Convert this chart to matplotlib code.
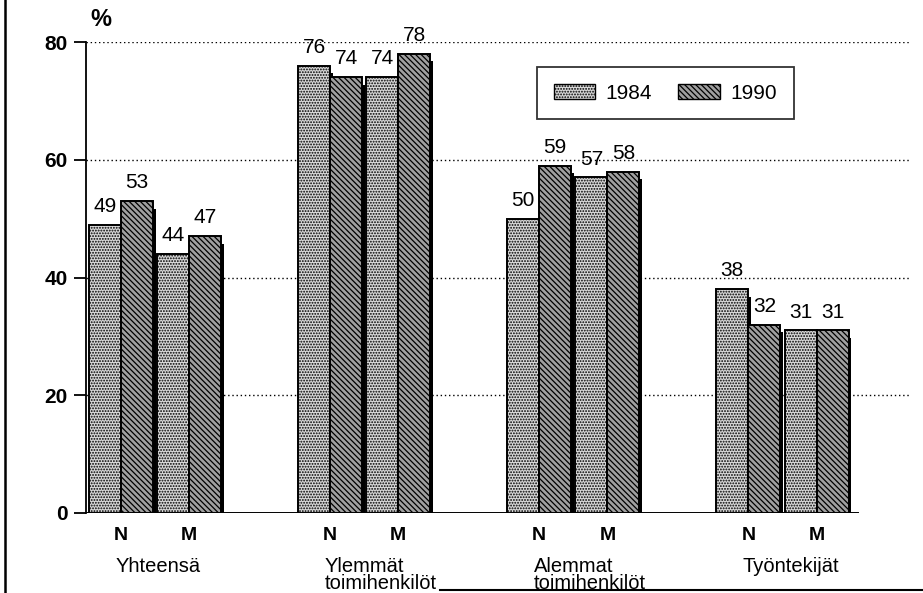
import matplotlib
matplotlib.use("Agg")
import matplotlib.pyplot as plt
from matplotlib.lines import Line2D
from matplotlib.patches import Rectangle
import matplotlib as mpl

plt.rcParams['font.family'] = ['Liberation Sans', 'DejaVu Sans']
mpl.rcParams['hatch.linewidth'] = 0.9

# Data
groups = ["Yhteensä", "Ylemmät\ntoimihenkilöt", "Alemmat\ntoimihenkilöt", "Työntekijät"]
sexes = ["N", "M"]
years = ["1984", "1990"]
# values[group][sex] = (1984, 1990)
v1984 = [[49, 44], [76, 74], [50, 57], [38, 31]]
v1990 = [[53, 47], [74, 78], [59, 58], [32, 31]]
yticks = [0, 20, 40, 60, 80]

fig = plt.figure(figsize=(9.23, 5.93), dpi=100)
ax = fig.add_axes([86 / 923, 80 / 593, 824 / 923, 471 / 593])
ax.set_xlim(-0.33, 3.61)
ax.set_ylim(0, 80)

w = 0.153
pair_off = 0.163

styles = {
    "1984": dict(facecolor="#d8d8d8", hatch="......"),
    "1990": dict(facecolor="#a0a0a0", hatch="\\\\\\\\\\\\"),
}

for g in range(len(groups)):
    for s in range(len(sexes)):
        pc = g + (-pair_off if s == 0 else pair_off)
        vals = [v1984[g][s], v1990[g][s]]
        for k, yr in enumerate(years):
            x = pc - w / 2 if k == 0 else pc + w / 2
            h = vals[k]
            # drop shadow
            ax.bar(x + 0.014, h - 1.3, width=w, color="black", zorder=1, linewidth=0)
            ax.bar(x, h, width=w, edgecolor="black", linewidth=1.4, zorder=2,
                   **styles[yr])
            ax.text(x, h + 1.5, str(h), ha="center", va="bottom", fontsize=15, zorder=3)
        ax.text(pc, -3.75, sexes[s], ha="center", va="center", fontsize=14,
                fontweight="bold")
    ax.text(g - 0.19, -7.4, groups[g], ha="left", va="top", fontsize=14.5,
            linespacing=0.92)

# dotted gridlines
for yv in yticks[1:]:
    ax.plot([-0.33, 3.61], [yv, yv], linestyle=(0, (1, 2)), color="black",
            linewidth=1.0, zorder=0)
# baseline
ax.plot([-0.33, 3.36], [0, 0], color="black", linewidth=1.4, zorder=0.5)

for sp in ["top", "right", "bottom"]:
    ax.spines[sp].set_visible(False)
ax.spines["left"].set_linewidth(1.3)
ax.set_xticks([])
ax.set_yticks(yticks)
ax.set_yticklabels([str(t) for t in yticks], fontsize=15, fontweight="bold")
ax.tick_params(axis="y", direction="out", length=9, width=1.3, pad=4)
ax.text(-0.31, 81.8, "%", fontsize=17, fontweight="bold", ha="left", va="bottom")

# legend
leg = ax.legend(
    handles=[Rectangle((0, 0), 1, 1, edgecolor="black", linewidth=1.0, **styles[y])
             for y in years],
    labels=years, loc="upper left", bbox_to_anchor=(451 / 824, 1 - 25 / 471),
    borderaxespad=0, ncol=2, frameon=True, fancybox=False, edgecolor="black",
    fontsize=15, handlelength=2.0, handleheight=0.75, columnspacing=1.25,
    borderpad=0.8, handletextpad=0.5)
leg.get_frame().set_linewidth(1.3)

# frame lines
fig.add_artist(Line2D([5 / 923, 5 / 923], [0, 1], color="black", linewidth=1.8))
fig.add_artist(Line2D([440 / 923, 1], [3 / 593, 3 / 593], color="black", linewidth=1.5))

fig.savefig("out.png", dpi=100)
